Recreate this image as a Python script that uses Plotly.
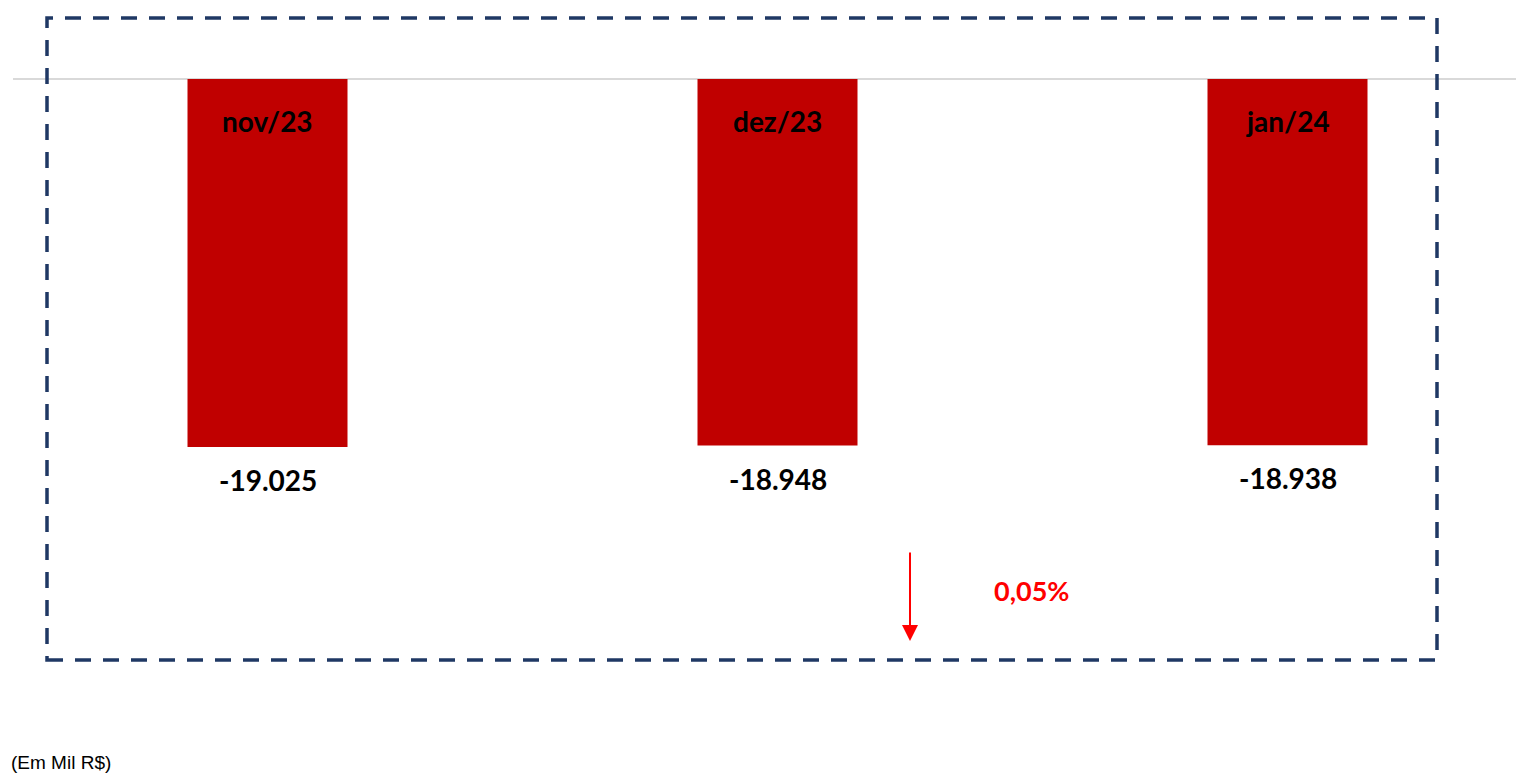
import plotly.graph_objects as go

categories = ["nov/23", "dez/23", "jan/24"]
values = [-19025, -18948, -18938]
variation_label = "0,05%"
unit_label = "(Em Mil R$)"

OFF = 8  # page body margin
W, H = 1524 - OFF, 774 - OFF
ML = 13 - OFF
px_per_unit = 510.0
x0 = -(267.5 - OFF - ML) / px_per_unit
x1 = x0 + (W - ML) / px_per_unit
units_per_px = 51.70
ymax = (79 - OFF) * units_per_px
ymin = ymax - H * units_per_px

def px(x):
    return (x - OFF - ML) / (W - ML)

def py(y):
    return 1 - (y - OFF) / H

fig = go.Figure()
fig.add_trace(go.Bar(
    x=list(range(len(categories))), y=values,
    width=160 / px_per_unit,
    marker=dict(color="#C00000", line=dict(width=0)),
    hoverinfo="skip",
))

font_b = "Lato, 'Open Sans', sans-serif"
annotations = []
for i, (c, v) in enumerate(zip(categories, values)):
    annotations.append(dict(x=i, y=0, xref="x", yref="y", text=f"<b>{c}</b>",
                            showarrow=False, yshift=-42, xanchor="center", yanchor="middle",
                            font=dict(family=font_b, size=28, color="#000000")))
    lbl = f"{v:,.0f}".replace(",", ".")
    annotations.append(dict(x=i, y=v, xref="x", yref="y", text=f"<b>{lbl}</b>",
                            showarrow=False, yshift=-33, xanchor="center", yanchor="middle",
                            font=dict(family=font_b, size=28, color="#000000")))

annotations.append(dict(x=px(910), y=py(641), xref="paper", yref="paper",
                        text="", showarrow=True, ax=0, ay=-90,
                        arrowhead=2, arrowsize=1.6, arrowwidth=2, arrowcolor="#FF0000"))
annotations.append(dict(x=px(1031), y=py(590), xref="paper", yref="paper",
                        xanchor="center", yanchor="middle",
                        text=f"<b>{variation_label}</b>", showarrow=False,
                        font=dict(family=font_b, size=27, color="#FF0000")))
annotations.append(dict(x=px(OFF + 1), y=py(762), xref="paper", yref="paper",
                        xanchor="left", yanchor="middle", text=unit_label, showarrow=False,
                        font=dict(family="Liberation Sans, Arial, sans-serif", size=19, color="#000000")))

shapes = [dict(type="rect", xref="paper", yref="paper",
               x0=px(47), x1=px(1437), y0=py(660), y1=py(18),
               line=dict(color="#1F3864", width=3.5, dash="16px,12px"), fillcolor="rgba(0,0,0,0)")]

fig.update_layout(
    width=W, height=H,
    margin=dict(l=ML, r=0, t=0, b=0),
    paper_bgcolor="white", plot_bgcolor="white",
    showlegend=False,
    xaxis=dict(range=[x0, x1], visible=False, fixedrange=True),
    yaxis=dict(range=[ymin, ymax], showgrid=False, showticklabels=False,
               zeroline=True, zerolinecolor="#D9D9D9", zerolinewidth=2, fixedrange=True),
    annotations=annotations,
    shapes=shapes,
)

fig.write_html("out.html")
